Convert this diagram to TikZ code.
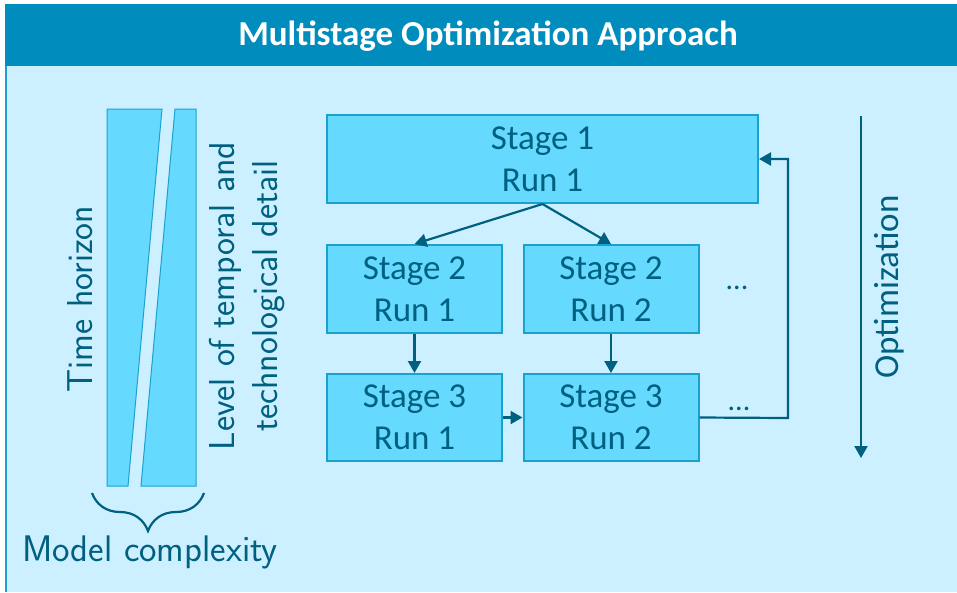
\documentclass[tikz,border=0pt]{standalone}
\usepackage{fontspec}
\setmainfont{Carlito}
\usetikzlibrary{arrows.meta,decorations.pathreplacing}
\definecolor{hdr}{RGB}{0,141,190}
\definecolor{bg}{RGB}{204,240,255}
\definecolor{boxfill}{RGB}{102,217,255}
\definecolor{boxline}{RGB}{27,161,208}
\definecolor{ink}{RGB}{0,96,128}
\tikzset{
  stagebox/.style={draw=boxline, line width=2pt, fill=boxfill, minimum width=175pt, minimum height=88pt, inner sep=0pt, align=center, text=ink, font=\fontsize{35}{42}\selectfont},
  conn/.style={draw=ink, line width=2.2pt, -{Triangle[length=12pt,width=13pt]}},
  lbl/.style={text=ink, inner sep=0pt},
}
\begin{document}
\begin{tikzpicture}[x=1pt,y=-1pt]
\useasboundingbox (0,0) rectangle (957,592);
\fill[white] (0,0) rectangle (957,592);
\fill[bg] (5,66) rectangle (957,592);
\fill[hdr] (5,4) rectangle (957,66);
\draw[boxline, line width=1.5pt] (6,66) -- (6,592);
\node[text=white, font=\fontsize{35}{40}\selectfont\bfseries] (title) at (488,36) {Multistage Optimization Approach};

% left panel
\filldraw[fill=boxfill, draw=boxline, line width=1pt] (107,109) -- (162,109) -- (128,486) -- (107,486) -- cycle;
\filldraw[fill=boxfill, draw=boxline, line width=1pt] (175,109) -- (196,109) -- (196,486) -- (141,486) -- cycle;
\coordinate (bl) at (92,493);
\coordinate (br) at (204,493);
\draw[ink, line width=2.2pt, decorate, decoration={brace, mirror, amplitude=38pt, aspect=0.5}] (bl) -- (br);
\node[lbl, font=\sffamily\fontsize{37}{40}\selectfont] (mc) at (150,552) {Model complexity};
\node[lbl, rotate=90, font=\sffamily\fontsize{36}{40}\selectfont] (th) at (80,299) {Time horizon};
\node[lbl, rotate=90, align=center, font=\sffamily\fontsize{36}{43}\selectfont] (lv) at (247,296) {Level of temporal and\\technological detail};

% stages
\node[stagebox, minimum width=431pt] (s11) at (542.5,159) {Stage 1\\Run 1};
\node[stagebox] (s21) at (414.5,289) {Stage 2\\Run 1};
\node[stagebox] (s22) at (611,289) {Stage 2\\Run 2};
\node[stagebox, minimum height=87pt] (s31) at (414.5,417.5) {Stage 3\\Run 1};
\node[stagebox, minimum height=87pt] (s32) at (611,417.5) {Stage 3\\Run 2};

\draw[conn] (s11.south) -- (s21.north);
\draw[conn] (s11.south) -- (s22.north);
\draw[conn] (s21) -- (s31);
\draw[conn] (s22) -- (s32);
\draw[conn] (s31) -- (s32);
\coordinate (c1) at (788,418);
\coordinate (c2) at (788,159);
\draw[conn] (s32.east) -- (c1) -- (c2) -- (s11.east |- c2);
\node[lbl, font=\fontsize{30}{30}\selectfont] (d1) at (737,288) {...};
\node[lbl, font=\fontsize{30}{30}\selectfont] (d2) at (739,409) {...};

% optimization
\coordinate (o1) at (861,116);
\coordinate (o2) at (861,458);
\draw[conn] (o1) -- (o2);
\node[lbl, rotate=90, font=\fontsize{35}{30}\selectfont] (opt) at (889,287) {Optimization};
\end{tikzpicture}
\end{document}
